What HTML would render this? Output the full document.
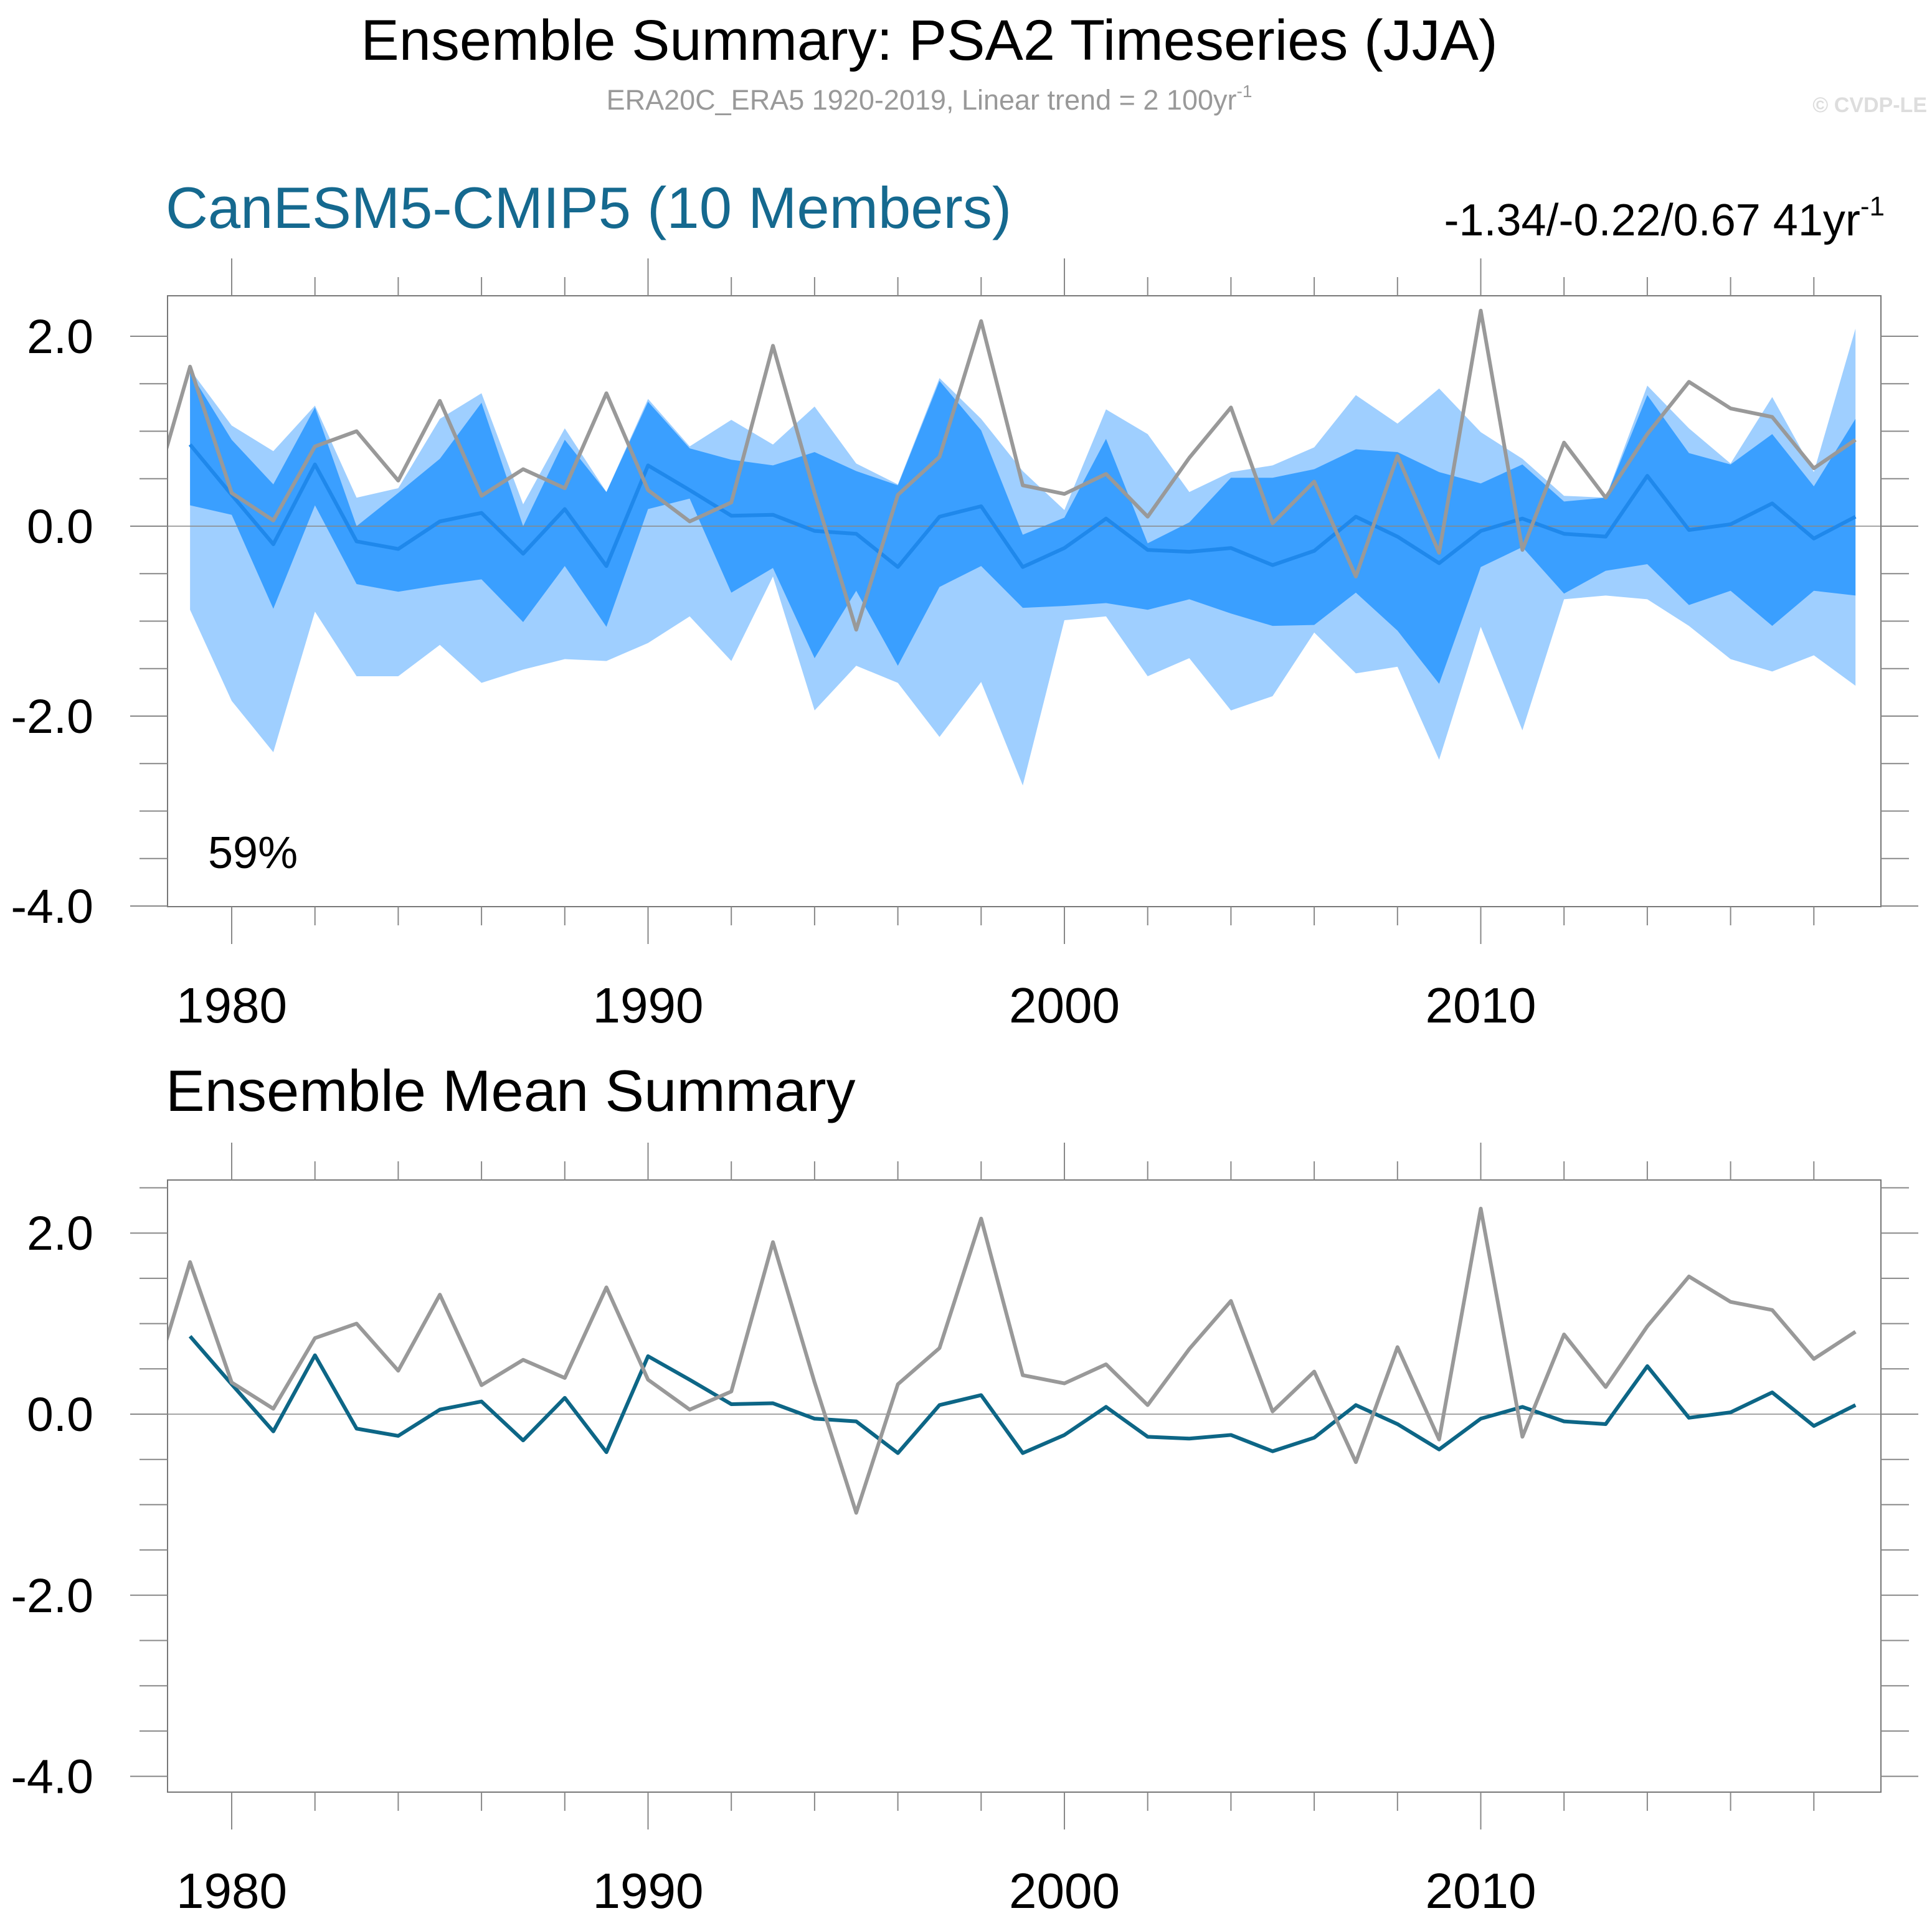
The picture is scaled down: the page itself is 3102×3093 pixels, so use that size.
<!DOCTYPE html>
<html><head><meta charset="utf-8"><style>
html,body{margin:0;padding:0;background:#fff}
svg{display:block;font-family:"Liberation Sans",sans-serif}
</style></head><body>
<svg id="chart" width="3102" height="3093" viewBox="0 0 3102 3093" xmlns="http://www.w3.org/2000/svg">
<text x="1492" y="96" font-size="92" text-anchor="middle">Ensemble Summary: PSA2 Timeseries (JJA)</text>
<text x="1492" y="176" font-size="45" text-anchor="middle" fill="#999">ERA20C_ERA5 1920-2019, Linear trend = 2 100yr<tspan font-size="28" dy="-20">-1</tspan></text>
<text x="3094" y="180" font-size="34" text-anchor="end" fill="#ddd" font-weight="bold">© CVDP-LE</text>
<text x="266" y="366" font-size="94" fill="#15698f">CanESM5-CMIP5 (10 Members)</text>
<text x="3026" y="378" font-size="72" text-anchor="end">-1.34/-0.22/0.67 41yr<tspan font-size="44" dy="-32">-1</tspan></text>
<text x="334" y="1394" font-size="72">59%</text>
<text x="266" y="1784" font-size="94">Ensemble Mean Summary</text>
<g id="p1"></g>
<g id="p2"></g>
</svg>
<script>
const years=[1978,1979,1980,1981,1982,1983,1984,1985,1986,1987,1988,1989,1990,1991,1992,1993,1994,1995,1996,1997,1998,1999,2000,2001,2002,2003,2004,2005,2006,2007,2008,2009,2010,2011,2012,2013,2014,2015,2016,2017,2018,2019];
const obs=[0.16,1.68,0.35,0.06,0.84,1.0,0.48,1.32,0.32,0.6,0.40,1.40,0.38,0.05,0.25,1.9,0.35,-1.09,0.33,0.73,2.16,0.43,0.34,0.55,0.1,0.72,1.25,0.03,0.47,-0.53,0.74,-0.28,2.27,-0.25,0.88,0.3,0.97,1.52,1.24,1.15,0.61,0.91];
const bandYears=years.slice(1);
const ensMean=[0.86,0.33,-0.19,0.65,-0.16,-0.24,0.05,0.14,-0.29,0.18,-0.42,0.64,0.38,0.11,0.12,-0.05,-0.08,-0.43,0.1,0.21,-0.43,-0.23,0.08,-0.25,-0.27,-0.23,-0.41,-0.26,0.1,-0.11,-0.39,-0.05,0.08,-0.08,-0.11,0.53,-0.04,0.02,0.24,-0.13,0.1];
const outerMax=[1.65,1.06,0.79,1.27,0.30,0.40,1.13,1.40,0.23,1.03,0.36,1.34,0.84,1.12,0.86,1.26,0.66,0.44,1.56,1.13,0.58,0.17,1.23,0.97,0.36,0.57,0.64,0.83,1.38,1.08,1.45,0.99,0.71,0.32,0.30,1.48,1.03,0.66,1.36,0.57,2.08];
const innerMax=[1.62,0.91,0.44,1.25,0.0,0.35,0.71,1.3,0.0,0.91,0.36,1.31,0.82,0.70,0.64,0.78,0.58,0.43,1.53,1.01,-0.09,0.09,0.92,-0.18,0.04,0.51,0.51,0.6,0.81,0.78,0.57,0.45,0.65,0.26,0.30,1.38,0.77,0.65,0.97,0.42,1.13];
const innerMin=[0.22,0.12,-0.87,0.22,-0.61,-0.69,-0.62,-0.56,-1.01,-0.42,-1.06,0.18,0.29,-0.70,-0.44,-1.39,-0.68,-1.47,-0.64,-0.42,-0.86,-0.84,-0.81,-0.88,-0.77,-0.92,-1.05,-1.04,-0.70,-1.1,-1.66,-0.43,-0.22,-0.71,-0.47,-0.40,-0.83,-0.68,-1.05,-0.68,-0.73];
const outerMin=[-0.88,-1.84,-2.38,-0.9,-1.58,-1.58,-1.25,-1.65,-1.51,-1.40,-1.42,-1.23,-0.95,-1.42,-0.53,-1.94,-1.47,-1.65,-2.22,-1.64,-2.73,-0.99,-0.95,-1.58,-1.39,-1.94,-1.79,-1.12,-1.55,-1.48,-2.46,-1.06,-2.15,-0.77,-0.73,-0.77,-1.05,-1.40,-1.53,-1.36,-1.68];
const yTicks=[2,0,-2,-4];
const yTickLabels=["2.0","0.0","-2.0","-4.0"];
const xTicks=[1980,1990,2000,2010];
const xTickLabels=["1980","1990","2000","2010"];

const NS="http://www.w3.org/2000/svg";
function mk(parent,tag,attrs){const e=document.createElementNS(NS,tag);for(const k in attrs)e.setAttribute(k,attrs[k]);parent.appendChild(e);return e;}
const L=269,R=3020;
const xS=yr=>372+(yr-1980)*66.85;

function panel(g,top,bot,y0,unit,full,id){
  const yS=v=>y0-v*unit;
  const cp=mk(g,'clipPath',{id:'clip'+id});
  mk(cp,'rect',{x:L,y:top,width:R-L,height:bot-top});
  const d=mk(g,'g',{'clip-path':'url(#clip'+id+')'});
  
  
  const band=(hi,lo)=>{let p=bandYears.map((y,i)=>(i?'L':'M')+xS(y)+','+yS(hi[i]));for(let i=bandYears.length-1;i>=0;i--)p.push('L'+xS(bandYears[i])+','+yS(lo[i]));return p.join('')+'Z';};
  if(full){
    const b1=mk(d,'path',{d:band(outerMax,outerMin),fill:'#9fcfff'});
    
    
    const b2=mk(d,'path',{d:band(innerMax,innerMin),fill:'#3a9fff'});
    
    
  }
  const z=mk(d,'line',{x1:L,x2:R,y1:yS(0),y2:yS(0),stroke:'#888','stroke-width':1.5});
  
  
  const m=mk(d,'polyline',{points:bandYears.map((y,i)=>xS(y)+','+yS(ensMean[i])).join(' '),fill:'none',stroke:full?'#1f88eb':'#0d6686','stroke-width':6,'stroke-linejoin':'round'});
  
  
  const o=mk(d,'polyline',{points:years.map((y,i)=>xS(y)+','+yS(obs[i])).join(' '),fill:'none',stroke:'#999','stroke-width':6,'stroke-linejoin':'round'});
  
  
  const f=mk(g,'rect',{x:L,y:top,width:R-L,height:bot-top,fill:'none',stroke:'#777','stroke-width':2});
  
  
  const tk=mk(g,'g',{stroke:'#888','stroke-width':2});
  
  
  for(let yr=1980;yr<=2018;yr+=2){const maj=(yr%10===0);const len=maj?60:30;
    mk(tk,'line',{x1:xS(yr),x2:xS(yr),y1:top-len,y2:top});mk(tk,'line',{x1:xS(yr),x2:xS(yr),y1:bot,y2:bot+len});}
  for(let v=-4;v<=2.5;v+=0.5){const y=yS(v);if(y<top-1||y>bot+40)continue;const maj=(v%2===0);const len=maj?60:45;
    mk(tk,'line',{x1:L-len,x2:L,y1:y,y2:y});mk(tk,'line',{x1:R,x2:R+len,y1:y,y2:y});}
  yTicks.forEach((v,i)=>{const t=mk(g,'text',{x:150,y:yS(v)+27,'font-size':77,'text-anchor':'end'});t.textContent=yTickLabels[i];
    
    });
  xTicks.forEach((yr,i)=>{const t=mk(g,'text',{x:xS(yr),y:bot+186,'font-size':80,'text-anchor':'middle'});t.textContent=xTickLabels[i];
    
    });
}
panel(document.getElementById('p1'),475,1456,845,152.5,true,'top');
panel(document.getElementById('p2'),1895,2878,2271,145.4,false,'bottom');
</script>
</body></html>
